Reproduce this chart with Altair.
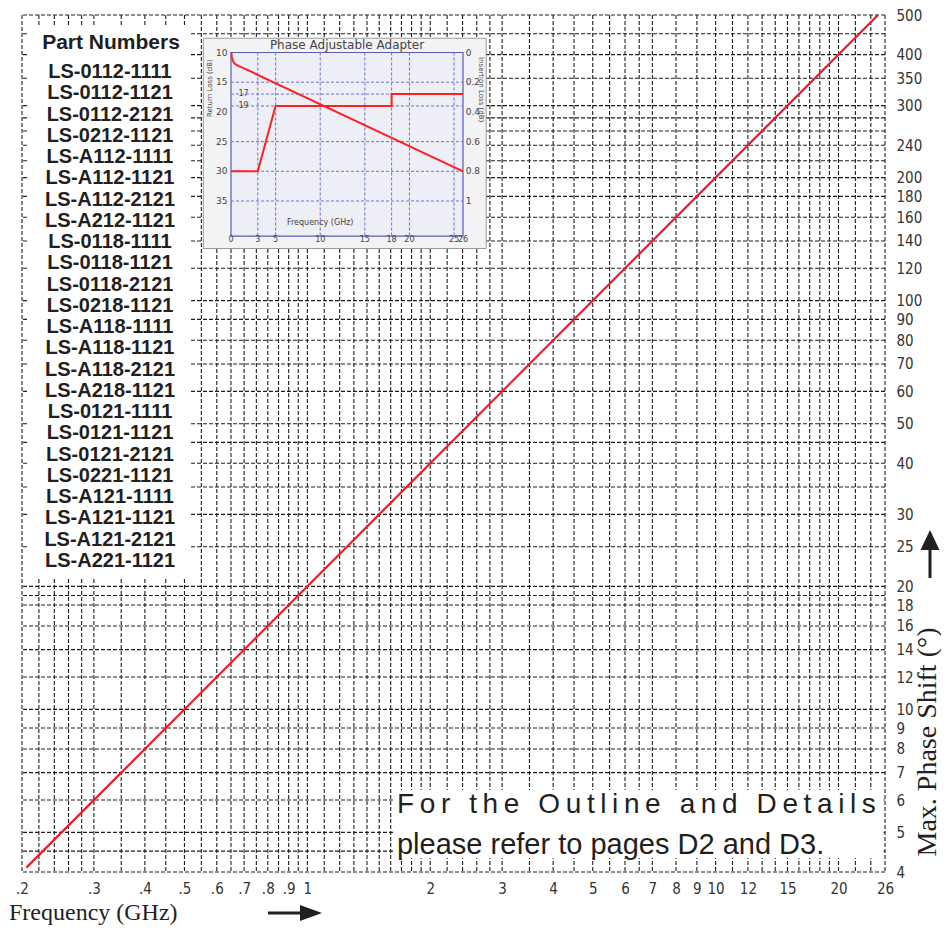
import altair as alt
import pandas as pd

# ---------------- data ----------------
x_ticks = [0.2, 0.3, 0.4, 0.5, 0.6, 0.7, 0.8, 0.9, 1, 2, 3, 4, 5, 6, 7, 8, 9, 10, 12, 15, 20, 26]
x_tick_labels = ['.2', '.3', '.4', '.5', '.6', '.7', '.8', '.9', '1', '2', '3', '4', '5', '6',
                 '7', '8', '9', '10', '12', '15', '20', '26']
y_ticks = [4, 5, 6, 7, 8, 9, 10, 12, 14, 16, 18, 20, 25, 30, 40, 50, 60, 70, 80, 90, 100,
           120, 140, 160, 180, 200, 240, 300, 350, 400, 500]

x_grid = [0.2, 0.22, 0.24, 0.26, 0.28, 0.3, 0.35, 0.4, 0.45, 0.5, 0.55, 0.6, 0.65, 0.7, 0.75,
          0.8, 0.85, 0.9, 0.95, 1, 1.1, 1.2, 1.3, 1.4, 1.5, 1.6, 1.7, 1.8, 1.9, 2, 2.2, 2.4,
          2.6, 2.8, 3, 3.5, 4, 4.5, 5, 5.5, 6, 6.5, 7, 8, 9, 10, 11, 12, 13, 14, 15, 16, 17,
          18, 19, 20, 22, 24, 26]
y_grid = [4, 4.5, 5, 6, 7, 8, 9, 10, 12, 14, 16, 18, 19, 20, 25, 30, 35, 40, 45, 50, 60, 70,
          80, 90, 100, 120, 140, 160, 180, 200, 220, 240, 260, 280, 300, 350, 400, 450, 500]

line_freq = [0.205, 25]
line_phase = [4.1, 500]

part_numbers = ['LS-0112-1111', 'LS-0112-1121', 'LS-0112-2121', 'LS-0212-1121',
                'LS-A112-1111', 'LS-A112-1121', 'LS-A112-2121', 'LS-A212-1121',
                'LS-0118-1111', 'LS-0118-1121', 'LS-0118-2121', 'LS-0218-1121',
                'LS-A118-1111', 'LS-A118-1121', 'LS-A118-2121', 'LS-A218-1121',
                'LS-0121-1111', 'LS-0121-1121', 'LS-0121-2121', 'LS-0221-1121',
                'LS-A121-1111', 'LS-A121-1121', 'LS-A121-2121', 'LS-A221-1121']

note_line1 = 'For the Outline and Details'
note_line2 = 'please refer to pages D2 and D3.'

# inset chart data
inset_x_ticks = [0, 3, 5, 10, 15, 18, 20, 25, 26]
inset_x_grid = [3, 5, 10, 15, 18, 20, 25]
inset_rl_ticks = [10, 15, 20, 25, 30, 35]
inset_rl_inner_ticks = [17, 19]
inset_rl_grid = [15, 17, 19, 25, 30, 35]
inset_il_ticks = [0, 0.2, 0.4, 0.6, 0.8, 1]
inset_il_labels = ['0', '0.2', '0.4', '0.6', '0.8', '1']
rl_freq = [0, 3, 5, 18, 18, 26]
rl_value = [30, 30, 19, 19, 17, 17]
il_freq = [0.05, 0.1, 0.2, 0.4, 0.8, 1.4, 26]
il_value = [0.0, 0.03, 0.055, 0.075, 0.09, 0.105, 0.8]

# ---------------- styles / layout ----------------
INK = '#231f20'
RED = '#ee1c25'
TICK_FONT = 'Liberation Sans Narrow, DejaVu Sans Condensed, Liberation Sans'
W, H = 863, 857

X_MAIN = alt.Scale(type='log', domain=[0.2, 26], nice=False)
Y_MAIN = alt.Scale(type='log', domain=[4, 500], nice=False)

label_expr = "[" + ",".join("'%s'" % s for s in x_tick_labels) + "][indexof([" + \
    ",".join(str(v) for v in x_ticks) + "], datum.value)]"

x_axis = alt.Axis(values=x_ticks, labelExpr=label_expr, orient='bottom', grid=False,
                  ticks=False, domain=False, title=None, labelFont=TICK_FONT,
                  labelFontSize=15, labelColor='#333', labelPadding=9, labelFlush=False,
                  labelOverlap=False)
y_axis = alt.Axis(values=y_ticks, format='d', orient='right', grid=False, ticks=False,
                  domain=False, title=None, labelFont=TICK_FONT, labelFontSize=15,
                  labelColor='#333', labelPadding=11, labelAlign='left', labelFlush=False,
                  labelOverlap=False)


def mx(field):
    return alt.X(field, type='quantitative', scale=X_MAIN, axis=x_axis)


def my(field):
    return alt.Y(field, type='quantitative', scale=Y_MAIN, axis=y_axis)


dash = dict(color='#1e1e1e', strokeDash=[4, 2], strokeWidth=1.1)
vgrid = alt.Chart(pd.DataFrame({'f': x_grid})).mark_rule(**dash).encode(x=mx('f'))
hgrid = alt.Chart(pd.DataFrame({'p': y_grid})).mark_rule(**dash).encode(y=my('p'))

# white boxes (in data space of the main scales)
boxes = pd.DataFrame({'f0': [0.207, 1.64], 'f1': [0.516, 25.8],
                      'p0': [21.0, 4.33], 'p1': [470.0, 6.35]})
white = alt.Chart(boxes).mark_rect(fill='white').encode(
    x=mx('f0'), x2='f1', y=my('p0'), y2='p1')

red_line = alt.Chart(pd.DataFrame({'f': line_freq, 'p': line_phase})).mark_line(
    color=RED, strokeWidth=2.2).encode(x=mx('f'), y=my('p'))

spaced1 = '\u2009'.join(list(note_line1))
note1 = alt.Chart(pd.DataFrame({'f': [1.658], 'p': [5.83], 't': [spaced1]})).mark_text(
    align='left', baseline='middle', font='Liberation Sans', fontSize=28, color=INK).encode(
    x=mx('f'), y=my('p'), text='t:N')
note2 = alt.Chart(pd.DataFrame({'f': [1.658], 'p': [4.67], 't': [note_line2]})).mark_text(
    align='left', baseline='middle', font='Liberation Sans', fontSize=29, color=INK).encode(
    x=mx('f'), y=my('p'), text='t:N')

main = alt.layer(vgrid, hgrid, white, red_line, note1, note2)

# part numbers
parts = alt.Chart(pd.DataFrame({'pn': part_numbers})).mark_text(
    font='Liberation Sans', fontWeight='bold', fontSize=20, color=INK).encode(
    x=alt.value(88),
    y=alt.Y('pn:N', scale=alt.Scale(type='point', domain=part_numbers, range=[57, 546],
                                    padding=0), axis=None),
    text='pn:N')
header = alt.Chart(pd.DataFrame({'t': ['Part Numbers']})).mark_text(
    font='Liberation Sans', fontWeight='bold', fontSize=21, color=INK).encode(
    x=alt.value(89), y=alt.value(28), text='t:N')

# ---------------- inset ----------------
X_IN = alt.Scale(domain=[0, 26], range=[209, 441])
Y_RL = alt.Scale(domain=[10, 35], range=[37.5, 186])
Y_IL = alt.Scale(domain=[0, 1], range=[37.5, 186])
BLUE = '#5a5ab8'
GRID_BLUE = '#7070d0'
IN_TXT = '#444'
IN_FONT = 'DejaVu Sans'


def ix(field):
    return alt.X(field, type='quantitative', scale=X_IN, axis=None)


def iy(field):
    return alt.Y(field, type='quantitative', scale=Y_RL, axis=None)


def il(field):
    return alt.Y(field, type='quantitative', scale=Y_IL, axis=None)


outer = alt.Chart(pd.DataFrame({'a': [-3.1], 'b': [28.6], 'c': [7.6], 'd': [43.0]})).mark_rect(
    fill='#f3f3f5', stroke='#9a9a9a', strokeWidth=1).encode(x=ix('a'), x2='b', y=iy('c'), y2='d')
inner = alt.Chart(pd.DataFrame({'a': [0], 'b': [26], 'c': [10], 'd': [40.9]})).mark_rect(
    fill='#eeeef6', stroke=BLUE, strokeWidth=1.2).encode(x=ix('a'), x2='b', y=iy('c'), y2='d')

igrid_v = alt.Chart(pd.DataFrame({'f': inset_x_grid, 'c': 10, 'd': 40.9})).mark_rule(
    color=GRID_BLUE, strokeDash=[3, 2], strokeWidth=1).encode(x=ix('f'), y=iy('c'), y2='d')
igrid_h = alt.Chart(pd.DataFrame({'r': inset_rl_grid, 'a': 0, 'b': 26})).mark_rule(
    color=GRID_BLUE, strokeDash=[3, 2], strokeWidth=1).encode(y=iy('r'), x=ix('a'), x2='b')

ix_lab = alt.Chart(pd.DataFrame({'f': inset_x_ticks, 'r': 41.6})).mark_text(
    font=IN_FONT, fontSize=8, color=IN_TXT).encode(x=ix('f'), y=iy('r'), text=alt.Text('f:Q', format='d'))
irl_lab = alt.Chart(pd.DataFrame({'r': inset_rl_ticks, 'f': -0.4})).mark_text(
    font=IN_FONT, fontSize=9, color=IN_TXT, align='right').encode(
    x=ix('f'), y=iy('r'), text=alt.Text('r:Q', format='d'))
irl_in_lab = alt.Chart(pd.DataFrame({'r': inset_rl_inner_ticks, 'f': 1.4})).mark_text(
    font=IN_FONT, fontSize=8, color=IN_TXT).encode(
    x=ix('f'), y=iy('r'), text=alt.Text('r:Q', format='d'))

ititle = alt.Chart(pd.DataFrame({'f': [13.0], 'r': [8.75], 't': ['Phase  Adjustable  Adapter']})).mark_text(
    font=IN_FONT, fontSize=12, color=IN_TXT).encode(x=ix('f'), y=iy('r'), text='t:N')
ifreq = alt.Chart(pd.DataFrame({'f': [10.0], 'r': [38.7], 't': ['Frequency  (GHz)']})).mark_text(
    font=IN_FONT, fontSize=8, color=IN_TXT).encode(x=ix('f'), y=iy('r'), text='t:N')
irl_title = alt.Chart(pd.DataFrame({'f': [-2.4], 'r': [16.0], 't': ['Return Loss (dB)']})).mark_text(
    font=IN_FONT, fontSize=7, color=IN_TXT, angle=270).encode(x=ix('f'), y=iy('r'), text='t:N')

rl_line = alt.Chart(pd.DataFrame({'f': rl_freq, 'r': rl_value})).mark_line(
    color='#ff2020', strokeWidth=2).encode(x=ix('f'), y=iy('r'))

inset_rl = alt.layer(outer, inner, igrid_v, igrid_h, ix_lab, irl_lab, irl_in_lab,
                     ititle, ifreq, irl_title, rl_line)

il_line = alt.Chart(pd.DataFrame({'f': il_freq, 'v': il_value})).mark_line(
    color='#ff2020', strokeWidth=2).encode(x=ix('f'), y=il('v'))
il_lab = alt.Chart(pd.DataFrame({'v': inset_il_ticks, 't': inset_il_labels, 'f': 26.3})).mark_text(
    font=IN_FONT, fontSize=9, color=IN_TXT, align='left').encode(x=ix('f'), y=il('v'), text='t:N')
il_title = alt.Chart(pd.DataFrame({'f': [28.0], 'v': [0.25], 't': ['Insertion Loss (dB)']})).mark_text(
    font=IN_FONT, fontSize=7, color=IN_TXT, angle=90).encode(x=ix('f'), y=il('v'), text='t:N')
inset_il = alt.layer(il_line, il_lab, il_title)

# ---------------- axis titles and arrows ----------------
one = pd.DataFrame({'t': ['']})
freq_title = alt.Chart(pd.DataFrame({'t': ['Frequency (GHz)']})).mark_text(
    font='Liberation Serif', fontSize=24, color=INK, align='left', baseline='alphabetic').encode(
    x=alt.value(-13), y=alt.value(905), text='t:N')
arrow_r_shaft = alt.Chart(one).mark_rule(color=INK, strokeWidth=3).encode(
    x=alt.value(246), x2=alt.value(281), y=alt.value(898))
arrow_r_head = alt.Chart(one).mark_point(shape='M-1,-0.72L1,0L-1,0.72Z', filled=True, size=484,
                                         color=INK, opacity=1).encode(
    x=alt.value(289), y=alt.value(898))

phase_title = alt.Chart(pd.DataFrame({'t': ['Max. Phase Shift (°)']})).mark_text(
    font='Liberation Serif', fontSize=28, color=INK, angle=270).encode(
    x=alt.value(906), y=alt.value(727), text='t:N')
arrow_u_shaft = alt.Chart(one).mark_rule(color=INK, strokeWidth=3).encode(
    x=alt.value(908), y=alt.value(532), y2=alt.value(563))
arrow_u_head = alt.Chart(one).mark_point(shape='M-0.95,1L0,-1L0.95,1Z', filled=True, size=400,
                                         color=INK, opacity=1).encode(
    x=alt.value(908), y=alt.value(525))

chart = alt.layer(main, parts, header, inset_rl, inset_il, freq_title, arrow_r_shaft,
                  arrow_r_head, phase_title, arrow_u_shaft, arrow_u_head).resolve_scale(
    x='independent', y='independent').properties(
    width=W, height=H,
    autosize=alt.AutoSizeParams(type='none'),
    padding={'left': 14, 'top': 7, 'right': 56, 'bottom': 53},
    background='white').configure_view(stroke=None)

chart.save('out.html', embed_options={'renderer': 'svg', 'actions': False})
